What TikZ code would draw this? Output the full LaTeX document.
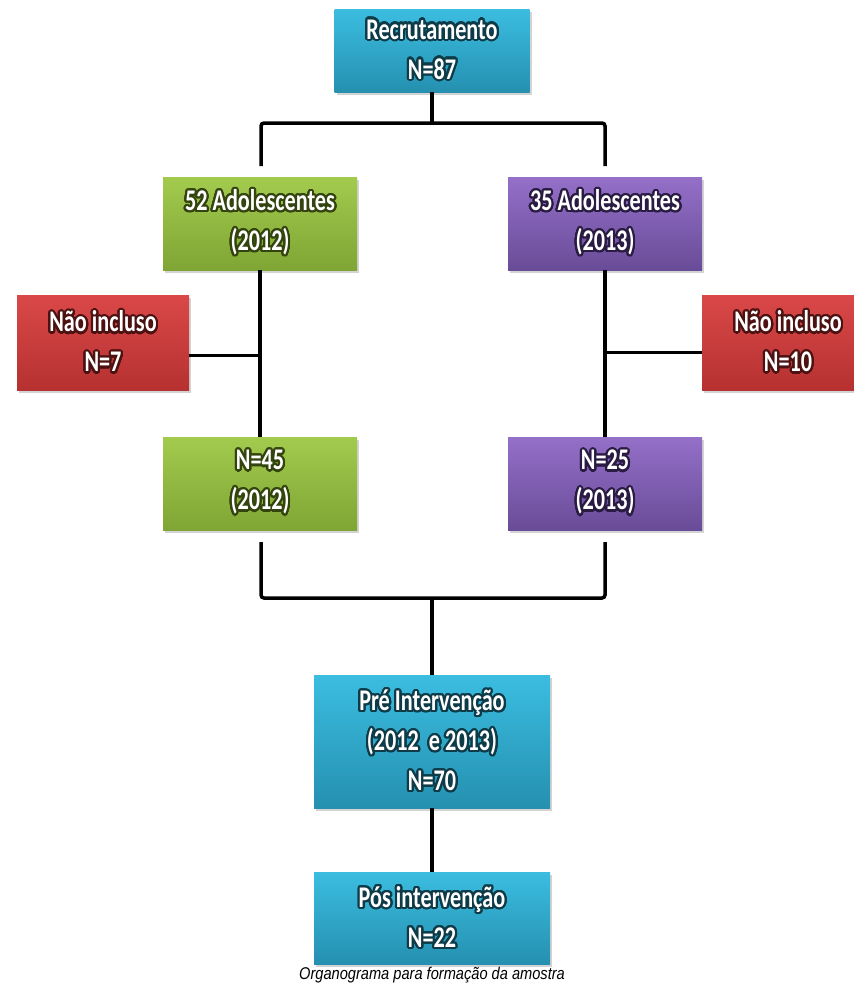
\documentclass[tikz,border=0pt]{standalone}
\usepackage{fontspec}
\usepackage{contour}
\usetikzlibrary{shadows}
\newfontfamily\boxfont[FakeStretch=0.74]{Carlito}
\newfontfamily\capfont[FakeStretch=0.86]{Liberation Sans}
\definecolor{blueT}{HTML}{3BBDE0}
\definecolor{blueB}{HTML}{2590B0}
\definecolor{blueG}{HTML}{0E3B48}
\definecolor{greenT}{HTML}{A2CB4E}
\definecolor{greenB}{HTML}{7FA534}
\definecolor{greenG}{HTML}{34440F}
\definecolor{purpT}{HTML}{9470C8}
\definecolor{purpB}{HTML}{694C98}
\definecolor{purpG}{HTML}{2A1B42}
\definecolor{redT}{HTML}{DA4848}
\definecolor{redB}{HTML}{B63131}
\definecolor{redG}{HTML}{4C1212}
\contourlength{2.2pt}
\contournumber{24}
\newcommand{\glow}[2]{\contour{#1}{#2}}
\begin{document}
\begin{tikzpicture}[x=1pt, y=-1pt,
    box/.style={rectangle, inner sep=0pt, align=center, text=white,
      minimum width=194pt, minimum height=93pt,
      font=\boxfont\bfseries\fontsize{30}{40}\selectfont,
      drop shadow={opacity=0.35, shadow xshift=2pt, shadow yshift=-3pt}},
    bluebox/.style={box, top color=blueT, bottom color=blueB},
    greenbox/.style={box, top color=greenT, bottom color=greenB},
    purpbox/.style={box, top color=purpT, bottom color=purpB},
    redbox/.style={box, top color=redT, bottom color=redB,
      minimum width=172pt, minimum height=95pt},
    link/.style={line width=3.5pt, black}]
    \useasboundingbox (0,0) rectangle (854,988);
    \node[bluebox, minimum width=195pt, minimum height=83pt] (recr) at (432,50.5)
      {\glow{blueG}{Recrutamento}\\\glow{blueG}{N=87}};
    \node[greenbox] (g1) at (260,223.5) {\glow{greenG}{52 Adolescentes}\\\glow{greenG}{(2012)}};
    \node[purpbox] (p1) at (605,223.5) {\glow{purpG}{35 Adolescentes}\\\glow{purpG}{(2013)}};
    \node[redbox] (r1) at (103,342.5) {\glow{redG}{Não incluso}\\\glow{redG}{N=7}};
    \node[redbox] (r2) at (788,342.5) {\glow{redG}{Não incluso}\\\glow{redG}{N=10}};
    \node[greenbox] (g2) at (260,483.5) {\glow{greenG}{N=45}\\\glow{greenG}{(2012)}};
    \node[purpbox] (p2) at (605,483.5) {\glow{purpG}{N=25}\\\glow{purpG}{(2013)}};
    \node[bluebox, minimum width=236pt, minimum height=133pt] (pre) at (432,741.5)
      {\glow{blueG}{Pré Intervenção}\\\glow{blueG}{(2012\, e 2013)}\\\glow{blueG}{N=70}};
    \node[bluebox, minimum width=236pt, minimum height=92pt] (pos) at (432,918)
      {\glow{blueG}{Pós intervenção}\\\glow{blueG}{N=22}};
    \node[font=\capfont\itshape\fontsize{17}{20}\selectfont] (cap) at (432,975)
      {Organograma para formação da amostra};
    % brackets
    \coordinate (splitT) at (432,123);
    \coordinate (endTL) at (261,166);
    \coordinate (endTR) at (605,166);
    \coordinate (joinB) at (432,598);
    \coordinate (endBL) at (261,542);
    \coordinate (endBR) at (605,542);
    \draw[link] (recr) -- (splitT);
    \draw[link, rounded corners=3pt] (endTL) |- (splitT) -| (endTR);
    \draw[link] (g1) -- (g2);
    \draw[link] (p1) -- (p2);
    \draw[link] ([yshift=-13pt]r1.east) -- ([yshift=-13pt]r1.east -| g1.south);
    \draw[link] ([yshift=-10pt]r2.west) -- ([yshift=-10pt]r2.west -| p1.south);
    \draw[link, rounded corners=3pt] (endBL) |- (joinB) -| (endBR);
    \draw[link] (joinB) -- (pre);
    \draw[link] (pre) -- (pos);
\end{tikzpicture}
\end{document}
